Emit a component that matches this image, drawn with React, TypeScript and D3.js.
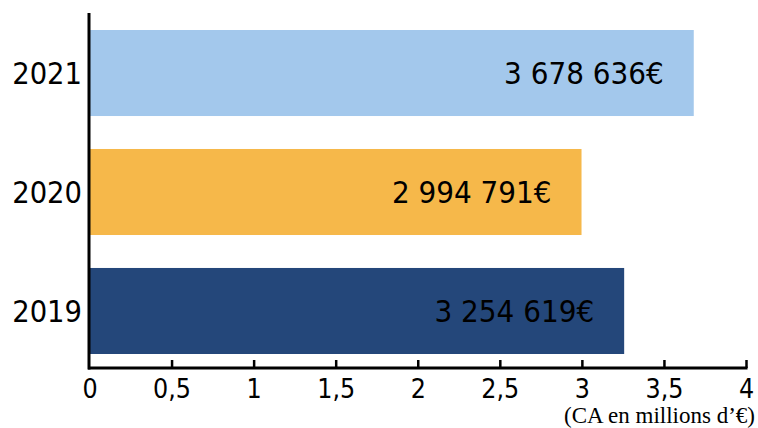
import React from "react";
import * as d3 from "d3";

const years = ["2021", "2020", "2019"];
const values = [3678636, 2994791, 3254619];
const colors = ["#a3c8ec", "#f6b84a", "#24477a"];
const xTicks = [0, 0.5, 1, 1.5, 2, 2.5, 3, 3.5, 4];
const caption = "(CA en millions d’€)";

const W = 758;
const H = 428;
const fmt = (v: number) =>
  String(v).replace(/\B(?=(\d{3})+(?!\d))/g, " ") + "€";

export default function App() {
  const x = d3.scaleLinear().domain([0, 4]).range([90, 746.5]);
  const y = d3.scaleBand().domain(years).range([30, 354]).paddingInner(0.277).paddingOuter(0);
  const axisY = 368;
  const font = "'DejaVu Sans Condensed', 'DejaVu Sans', sans-serif";
  return (
    <svg width={W} height={H} style={{ position: "absolute", left: 0, top: 0, background: "#fff" }}>
      {years.map((yr, i) => (
        <g key={yr}>
          <rect x={x(0)} y={y(yr)} width={x(values[i] / 1e6) - x(0)} height={y.bandwidth()} fill={colors[i]} />
          <text
            x={x(values[i] / 1e6) - 30}
            y={(y(yr) as number) + y.bandwidth() / 2}
            dy="0.36em"
            textAnchor="end"
            fontFamily={font}
            fontSize={31}
            fill="#000"
          >
            {fmt(values[i])}
          </text>
          <text
            x={82}
            y={(y(yr) as number) + y.bandwidth() / 2}
            dy="0.36em"
            textAnchor="end"
            fontFamily={font}
            fontSize={30.5}
            fill="#000"
          >
            {yr}
          </text>
        </g>
      ))}
      <line x1={89} x2={89} y1={13} y2={axisY + 1.5} stroke="#000" strokeWidth={3} />
      <line x1={88} x2={x(4) + 1} y1={axisY} y2={axisY} stroke="#000" strokeWidth={3} />
      {xTicks.map((t) => (
        <g key={t}>
          {t > 0 && <line x1={x(t)} x2={x(t)} y1={axisY} y2={axisY - 8} stroke="#000" strokeWidth={2.5} />}
          <text x={x(t)} y={398} textAnchor="middle" fontFamily={font} fontSize={26.5} fill="#000">
            {String(t).replace(".", ",")}
          </text>
        </g>
      ))}
      <text x={755} y={423} textAnchor="end" fontFamily="'Liberation Serif', serif" fontSize={23} fill="#000">
        {caption}
      </text>
    </svg>
  );
}
